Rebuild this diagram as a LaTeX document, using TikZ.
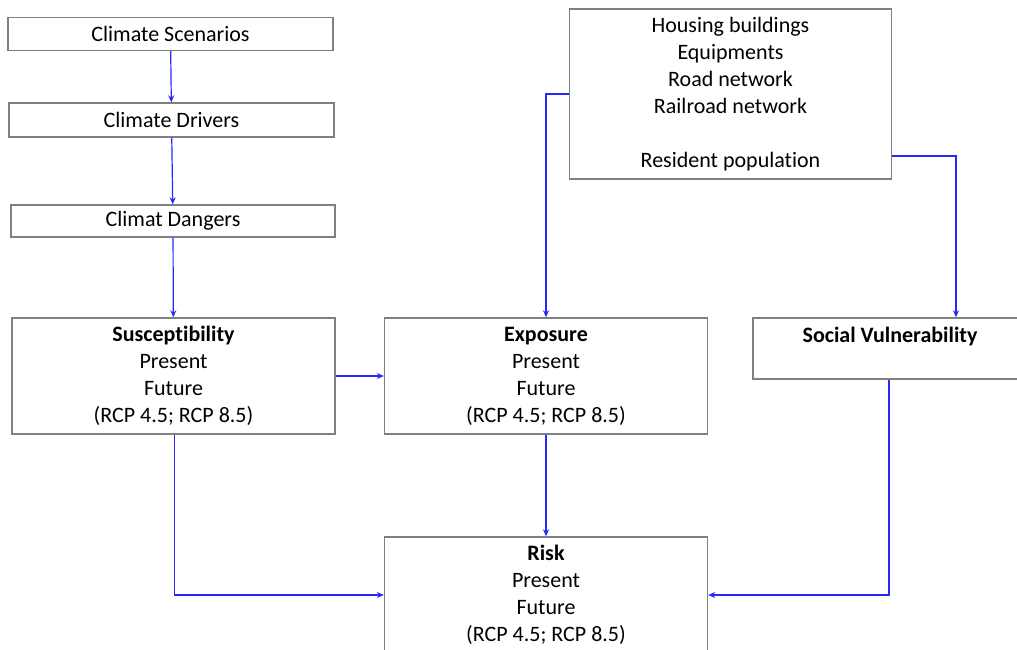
\documentclass[tikz,border=0pt]{standalone}
\usepackage{fontspec}
\setmainfont{Carlito}[Ligatures=NoCommon]
\definecolor{linkblue}{RGB}{40,40,250}
\definecolor{boxgray}{RGB}{128,128,128}
\usetikzlibrary{arrows.meta,positioning,calc}

\begin{document}
\begin{tikzpicture}[
  x=0.5pt,y=-0.5pt,
  every node/.style={font=\fontsize{11}{13.5}\selectfont},
  riskbox/.style={draw=boxgray,line width=0.7pt,fill=white,align=center,
                  inner sep=0pt,minimum width=161.5pt,minimum height=58pt},
  slimbox/.style={riskbox,minimum height=16.5pt},
  link/.style={-{Stealth[length=3.5pt,width=3pt]},line width=0.6pt,linkblue},
]
  \clip (0,0) rectangle (1017,649);
  \fill[white] (0,0) rectangle (1017,649);

  % Climate chain
  \node[slimbox,minimum width=162.5pt] (scen) at (170.5,34) {Climate Scenarios};
  \node[slimbox,minimum width=162.5pt,minimum height=17pt] (driv) at (171.5,120) {Climate Drivers};
  \node[slimbox,minimum width=162pt,minimum height=16pt] (dang) at (173,221) {Climat Dangers};

  % Main boxes
  \node[riskbox] (susc) at (173.5,376)
    {\textbf{Susceptibility}\\Present\\Future\\(RCP 4.5; RCP 8.5)};
  \node[riskbox] (expo) at (546,376)
    {\textbf{Exposure}\\Present\\Future\\(RCP 4.5; RCP 8.5)};
  \node[riskbox,minimum width=137pt,minimum height=30.5pt] (soc) at (890,348.5)
    {\textbf{Social Vulnerability}\\\mbox{}};
  \node[riskbox,minimum width=161pt,minimum height=85pt] (asset) at (730.5,94)
    {Housing buildings\\Equipments\\Road network\\Railroad network\\[13.5pt]Resident population};
  \node[riskbox] (risk) at (546,595)
    {\textbf{Risk}\\Present\\Future\\(RCP 4.5; RCP 8.5)};

  % Arrows
  \draw[link] (scen) -- (driv);
  \draw[link] (driv) -- (dang);
  \draw[link] (dang) -- (susc);
  \draw[link] (susc) -- (expo);
  \draw[link] (asset.west) -| (expo.north);
  \draw[link] ([yshift=-31pt]asset.east) -| ([xshift=33pt]soc.north);
  \draw[link] (expo) -- (risk);
  \draw[link] ([xshift=0.4pt]susc.south) |- (risk.west);
  \draw[link] ([xshift=-0.5pt]soc.south) |- (risk.east);
\end{tikzpicture}
\end{document}
